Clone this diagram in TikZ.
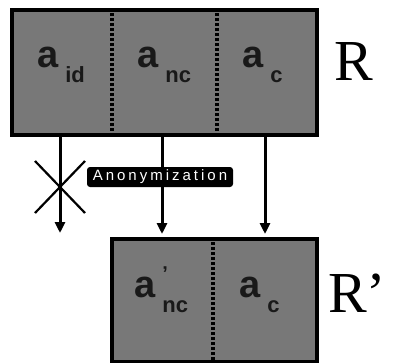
\documentclass[tikz,border=0pt]{standalone}
\usepackage{fontspec}
\setmainfont{Liberation Serif}
\setsansfont{Liberation Sans}
\newfontfamily\tagfont[LetterSpace=20]{Liberation Sans}
\usetikzlibrary{ arrows.meta, % For the triangle tips
                 positioning, % For easy node-relative placements
               }

% attribute name with its index set below the line
\newcommand{\attrsub}[1]{\hspace{7pt}\raisebox{-15pt}{\fontsize{22}{22}\selectfont #1}}

\tikzset{
  relbox/.style={draw=black, line width=3.5pt, fill=black!53, inner sep=0pt, anchor=north west},
  split/.style={black, line width=3.5pt, dash pattern=on 3pt off 2pt},
  attr/.style={font=\sffamily\bfseries\fontsize{38}{38}\selectfont, text=black!90, inner sep=0pt, anchor=base west},
  relname/.style={font=\fontsize{58}{58}\selectfont, inner sep=0pt},
  flow/.style={line width=3pt, -{Triangle[length=11pt,width=10pt]}},
  tag/.style={fill=black, text=white, rounded corners=3pt, inner sep=0pt,
              minimum width=146pt, minimum height=20pt, font=\tagfont\fontsize{15}{15}\selectfont},
}

\begin{document}
\begin{tikzpicture}[x=1pt, y=-1pt]
  \useasboundingbox (0,0) rectangle (393,362);

  % the original relation
  \node[relbox, minimum width=305pt, minimum height=125pt] (rel) at (10,8) {};
  \draw[split] ([xshift=102pt]rel.north west) -- ([xshift=102pt]rel.south west);
  \draw[split] ([xshift=207pt]rel.north west) -- ([xshift=207pt]rel.south west);
  \node[attr] (aid) at (37,67) {a\attrsub{id}};
  \node[attr] (anc) at (137,67) {a\attrsub{nc}};
  \node[attr] (ac) at (242,67) {a\attrsub{c}};
  \node[relname] (rname) at (354,62) {R};

  % the published relation
  \node[relbox, minimum width=205pt, minimum height=123pt] (relp) at (110,237) {};
  \draw[split] ([xshift=103pt]relp.north west) -- ([xshift=103pt]relp.south west);
  \node[attr] (ancp) at (134,297)
    {a\hspace{7pt}\rlap{\raisebox{17pt}{\fontsize{20}{20}\selectfont ’}}\raisebox{-15pt}{\fontsize{22}{22}\selectfont nc}};
  \node[attr] (acp) at (239,297) {a\attrsub{c}};
  \node[relname] (rpname) at (357,293) {R’};

  % columns
  \coordinate (colid) at (60,0);
  \coordinate (colnc) at (162,0);
  \coordinate (colc) at (265,0);
  \coordinate (lost) at (60,233);
  \coordinate (cross) at (60,187);

  \draw[flow] (rel.south -| colid) -- (lost);
  \draw[flow, shorten >=3pt] (rel.south -| colnc) -- (relp.north -| colnc);
  \draw[flow, shorten >=3pt] (rel.south -| colc) -- (relp.north -| colc);

  % identifier is dropped
  \draw[line width=2.2pt] (cross) ++(-25,-26) -- ++(50,52);
  \draw[line width=2.2pt] (cross) ++(25,-26) -- ++(-50,52);

  \node[tag] (anon) at (160,177) {Anonymization};
\end{tikzpicture}
\end{document}
